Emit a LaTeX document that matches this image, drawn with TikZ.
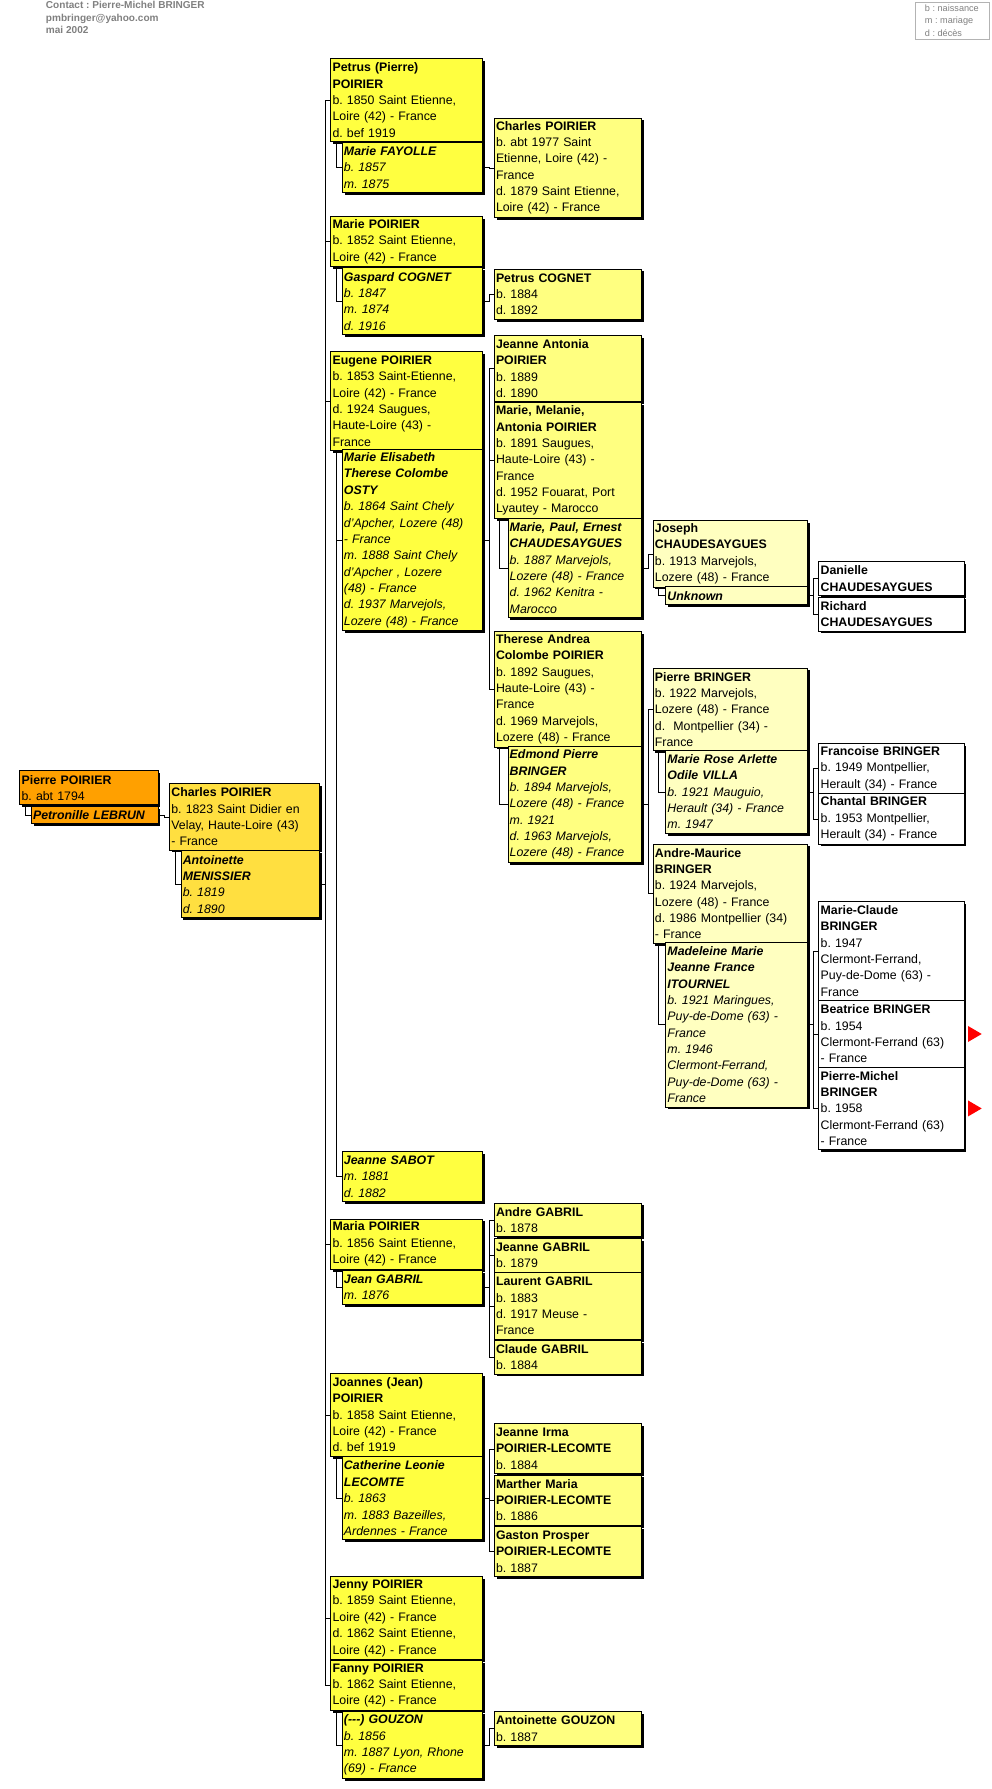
\documentclass[tikz,border=0pt]{standalone}
\usepackage{fontspec}
\setmainfont{Liberation Sans}
\usetikzlibrary{shadows}
\frenchspacing

\definecolor{c0}{HTML}{FFA000}
\definecolor{c1}{HTML}{FFDF40}
\definecolor{c2}{HTML}{FFFF40}
\definecolor{c3}{HTML}{FFFF80}
\definecolor{c4}{HTML}{FFFFC0}
\definecolor{hdr}{HTML}{808080}

\tikzset{
  box/.style={draw, line width=0.8pt, anchor=north west, align=left,
    inner xsep=1.5pt, inner ysep=0pt, font=\fontsize{10.8}{14.3}\selectfont,
    drop shadow={shadow xshift=2pt, shadow yshift=-2pt, fill=black, opacity=1}},
  lines/.style={minimum height=#1*14.3pt+1pt},
  sp/.style={box, font=\fontsize{10.8}{14.3}\selectfont\itshape},
  w0/.style={text width=118pt}, w0s/.style={text width=108pt},
  w1/.style={text width=128pt}, w1s/.style={text width=118pt},
  w2/.style={text width=130pt}, w2s/.style={text width=120pt},
  w3/.style={text width=126pt}, w3s/.style={text width=114pt},
  w4/.style={text width=132pt}, w4s/.style={text width=121pt},
  w5/.style={text width=124pt},
  more/.style={fill=red},
}
% person -> spouse, couple -> children
\newcommand\spouse[2]{\draw (#1.south west) ++(5,0) |- (#2.west);}
\newcommand\kids[2]{\foreach \k in {#2} \draw (#1.east) -- ++(5,0) |- (\k.west);}

\begin{document}
\begin{tikzpicture}[x=1pt, y=-1pt]
\useasboundingbox (0,0) rectangle (867,1565);

% header and legend
\node[anchor=north west, inner sep=0pt, align=left, text=hdr,
  font=\fontsize{8.8}{11}\selectfont\bfseries] (contact) at (40,1)
  {Contact : Pierre-Michel BRINGER\\pmbringer@yahoo.com\\mai 2002};
\node[draw=hdr!60, anchor=north west, align=left, text=hdr, inner sep=2pt,
  font=\fontsize{8}{11}\selectfont, minimum width=65pt] (legend) at (800,2)
  {b : naissance\\m : mariage\\d : décès};

% generation 0
\node[box, fill=c0, w0, lines=2] (pierre) at (17,674) {\textbf{Pierre POIRIER}\\b. abt 1794};
\node[sp, fill=c0, w0s, lines=1] (petronille) at (27,705) {\textbf{Petronille LEBRUN}};

% generation 1
\node[box, fill=c1, w1, lines=4] (charles) at (148,685) {\textbf{Charles POIRIER}\\b. 1823 Saint Didier en\\Velay, Haute-Loire (43)\\- France};
\node[sp, fill=c1, w1s, lines=4] (antoinette) at (158,744) {\textbf{Antoinette}\\\textbf{MENISSIER}\\b. 1819\\d. 1890};

% generation 2
\node[box, fill=c2, w2, lines=5] (petrus) at (289,51) {\textbf{Petrus (Pierre)}\\\textbf{POIRIER}\\b. 1850 Saint Etienne,\\Loire (42) - France\\d. bef 1919};
\node[sp, fill=c2, w2s, lines=3] (fayolle) at (299,124) {\textbf{Marie FAYOLLE}\\b. 1857\\m. 1875};
\node[box, fill=c2, w2, lines=3] (marie) at (289,189) {\textbf{Marie POIRIER}\\b. 1852 Saint Etienne,\\Loire (42) - France};
\node[sp, fill=c2, w2s, lines=4] (gaspard) at (299,234) {\textbf{Gaspard COGNET}\\b. 1847\\m. 1874\\d. 1916};
\node[box, fill=c2, w2, lines=6] (eugene) at (289,307) {\textbf{Eugene POIRIER}\\b. 1853 Saint-Etienne,\\Loire (42) - France\\d. 1924 Saugues,\\Haute-Loire (43) -\\France};
\node[sp, fill=c2, w2s, lines=11] (osty) at (299,393) {\textbf{Marie Elisabeth}\\\textbf{Therese Colombe}\\\textbf{OSTY}\\b. 1864 Saint Chely\\d'Apcher, Lozere (48)\\- France\\m. 1888 Saint Chely\\d'Apcher , Lozere\\(48) - France\\d. 1937 Marvejols,\\Lozere (48) - France};
\node[sp, fill=c2, w2s, lines=3] (sabot) at (299,1007) {\textbf{Jeanne SABOT}\\m. 1881\\d. 1882};
\node[box, fill=c2, w2, lines=3] (maria) at (289,1066) {\textbf{Maria POIRIER}\\b. 1856 Saint Etienne,\\Loire (42) - France};
\node[sp, fill=c2, w2s, lines=2] (jeangab) at (299,1111) {\textbf{Jean GABRIL}\\m. 1876};
\node[box, fill=c2, w2, lines=5] (joannes) at (289,1201) {\textbf{Joannes (Jean)}\\\textbf{POIRIER}\\b. 1858 Saint Etienne,\\Loire (42) - France\\d. bef 1919};
\node[sp, fill=c2, w2s, lines=5] (lecomte) at (299,1274) {\textbf{Catherine Leonie}\\\textbf{LECOMTE}\\b. 1863\\m. 1883 Bazeilles,\\Ardennes - France};
\node[box, fill=c2, w2, lines=5] (jenny) at (289,1379) {\textbf{Jenny POIRIER}\\b. 1859 Saint Etienne,\\Loire (42) - France\\d. 1862 Saint Etienne,\\Loire (42) - France};
\node[box, fill=c2, w2, lines=3] (fanny) at (289,1452) {\textbf{Fanny POIRIER}\\b. 1862 Saint Etienne,\\Loire (42) - France};
\node[sp, fill=c2, w2s, lines=4] (gouzon) at (299,1497) {\textbf{(-{}-{}-) GOUZON}\\b. 1856\\m. 1887 Lyon, Rhone\\(69) - France};

% generation 3
\node[box, fill=c3, w3, lines=6] (charles3) at (432,103) {\textbf{Charles POIRIER}\\b. abt 1977 Saint\\Etienne, Loire (42) -\\France\\d. 1879 Saint Etienne,\\Loire (42) - France};
\node[box, fill=c3, w3, lines=3] (petrusc) at (432,235) {\textbf{Petrus COGNET}\\b. 1884\\d. 1892};
\node[box, fill=c3, w3, lines=4] (jeanne) at (432,293) {\textbf{Jeanne Antonia}\\\textbf{POIRIER}\\b. 1889\\d. 1890};
\node[box, fill=c3, w3, lines=7] (melanie) at (432,352) {\textbf{Marie, Melanie,}\\\textbf{Antonia POIRIER}\\b. 1891 Saugues,\\Haute-Loire (43) -\\France\\d. 1952 Fouarat, Port\\Lyautey - Marocco};
\node[sp, fill=c3, w3s, lines=6] (paul) at (444,453) {\textbf{Marie, Paul, Ernest}\\\textbf{CHAUDESAYGUES}\\b. 1887 Marvejols,\\Lozere (48) - France\\d. 1962 Kenitra -\\Marocco};
\node[box, fill=c3, w3, lines=7] (therese) at (432,552) {\textbf{Therese Andrea}\\\textbf{Colombe POIRIER}\\b. 1892 Saugues,\\Haute-Loire (43) -\\France\\d. 1969 Marvejols,\\Lozere (48) - France};
\node[sp, fill=c3, w3s, lines=7] (edmond) at (444,653) {\textbf{Edmond Pierre}\\\textbf{BRINGER}\\b. 1894 Marvejols,\\Lozere (48) - France\\m. 1921\\d. 1963 Marvejols,\\Lozere (48) - France};
\node[box, fill=c3, w3, lines=2] (andre) at (432,1052) {\textbf{Andre GABRIL}\\b. 1878};
\node[box, fill=c3, w3, lines=2] (jeanneg) at (432,1083) {\textbf{Jeanne GABRIL}\\b. 1879};
\node[box, fill=c3, w3, lines=4] (laurent) at (432,1113) {\textbf{Laurent GABRIL}\\b. 1883\\d. 1917 Meuse -\\France};
\node[box, fill=c3, w3, lines=2] (claude) at (432,1172) {\textbf{Claude GABRIL}\\b. 1884};
\node[box, fill=c3, w3, lines=3] (irma) at (432,1245) {\textbf{Jeanne Irma}\\\textbf{POIRIER-LECOMTE}\\b. 1884};
\node[box, fill=c3, w3, lines=3] (marther) at (432,1290) {\textbf{Marther Maria}\\\textbf{POIRIER-LECOMTE}\\b. 1886};
\node[box, fill=c3, w3, lines=3] (gaston) at (432,1335) {\textbf{Gaston Prosper}\\\textbf{POIRIER-LECOMTE}\\b. 1887};
\node[box, fill=c3, w3, lines=2] (antoinetteg) at (432,1497) {\textbf{Antoinette GOUZON}\\b. 1887};

% generation 4
\node[box, fill=c4, w4, lines=4] (joseph) at (571,455) {\textbf{Joseph}\\\textbf{CHAUDESAYGUES}\\b. 1913 Marvejols,\\Lozere (48) - France};
\node[sp, fill=c4, w4s, lines=1] (unknown) at (582,513) {\textbf{Unknown}};
\node[box, fill=c4, w4, lines=5] (pierreb) at (571,584) {\textbf{Pierre BRINGER}\\b. 1922 Marvejols,\\Lozere (48) - France\\d.\ \ Montpellier (34) -\\France};
\node[sp, fill=c4, w4s, lines=5] (villa) at (582,656) {\textbf{Marie Rose Arlette}\\\textbf{Odile VILLA}\\b. 1921 Mauguio,\\Herault (34) - France\\m. 1947};
\node[box, fill=c4, w4, lines=6] (maurice) at (571,738) {\textbf{Andre-Maurice}\\\textbf{BRINGER}\\b. 1924 Marvejols,\\Lozere (48) - France\\d. 1986 Montpellier (34)\\- France};
\node[sp, fill=c4, w4s, lines=10] (itournel) at (582,824) {\textbf{Madeleine Marie}\\\textbf{Jeanne France}\\\textbf{ITOURNEL}\\b. 1921 Maringues,\\Puy-de-Dome (63) -\\France\\m. 1946\\Clermont-Ferrand,\\Puy-de-Dome (63) -\\France};

% generation 5
\node[box, fill=white, w5, lines=2] (danielle) at (716,491) {\textbf{Danielle}\\\textbf{CHAUDESAYGUES}};
\node[box, fill=white, w5, lines=2] (richard) at (716,522) {\textbf{Richard}\\\textbf{CHAUDESAYGUES}};
\node[box, fill=white, w5, lines=3] (francoise) at (716,650) {\textbf{Francoise BRINGER}\\b. 1949 Montpellier,\\Herault (34) - France};
\node[box, fill=white, w5, lines=3] (chantal) at (716,694) {\textbf{Chantal BRINGER}\\b. 1953 Montpellier,\\Herault (34) - France};
\node[box, fill=white, w5, lines=6] (claudeb) at (716,788) {\textbf{Marie-Claude}\\\textbf{BRINGER}\\b. 1947\\Clermont-Ferrand,\\Puy-de-Dome (63) -\\France};
\node[box, fill=white, w5, lines=4] (beatrice) at (716,875) {\textbf{Beatrice BRINGER}\\b. 1954\\Clermont-Ferrand (63)\\- France};
\node[box, fill=white, w5, lines=5] (pmichel) at (716,933) {\textbf{Pierre-Michel}\\\textbf{BRINGER}\\b. 1958\\Clermont-Ferrand (63)\\- France};

\foreach \n in {beatrice, pmichel}
  \fill[more] ([xshift=3pt]\n.east) ++(0,-7) -- ++(12,7) -- ++(-12,7) -- cycle;

% connectors
\spouse{pierre}{petronille}
\kids{petronille}{charles}
\spouse{charles}{antoinette}
\kids{antoinette}{petrus, marie, eugene, maria, joannes, jenny, fanny}
\spouse{petrus}{fayolle}
\kids{fayolle}{charles3}
\spouse{marie}{gaspard}
\kids{gaspard}{petrusc}
\spouse{eugene}{osty}
\spouse{eugene}{sabot}
\kids{osty}{jeanne, melanie, therese}
\spouse{maria}{jeangab}
\kids{jeangab}{andre, jeanneg, laurent, claude}
\spouse{joannes}{lecomte}
\kids{lecomte}{irma, marther, gaston}
\spouse{fanny}{gouzon}
\kids{gouzon}{antoinetteg}
\spouse{melanie}{paul}
\kids{paul}{joseph}
\spouse{joseph}{unknown}
\kids{unknown}{danielle, richard}
\spouse{therese}{edmond}
\kids{edmond}{pierreb, maurice}
\spouse{pierreb}{villa}
\kids{villa}{francoise, chantal}
\spouse{maurice}{itournel}
\kids{itournel}{claudeb, beatrice, pmichel}
\end{tikzpicture}
\end{document}
